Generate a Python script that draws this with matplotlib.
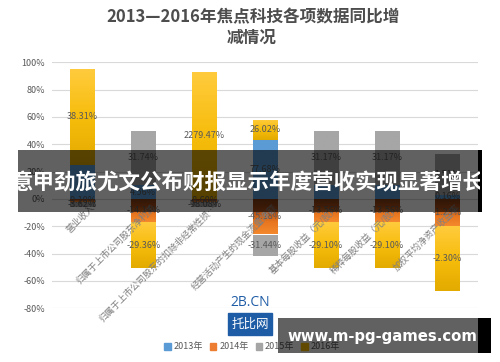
import numpy as np
import matplotlib
matplotlib.use('Agg')
import matplotlib.pyplot as plt
from matplotlib.colors import LinearSegmentedColormap
from matplotlib.patches import Rectangle

plt.rcParams['font.family'] = ['Noto Sans CJK SC', 'DejaVu Sans']

title1 = '2013—2016年焦点科技各项数据同比增'
title2 = '减情况'
categories = ['营业收入', '归属于上市公司股东净利润', '归属于上市公司股东的扣除非经常性损…',
              '经营活动产生的现金流量净额', '基本每股收益（元/股）', '稀释每股收益（元/股）',
              '加权平均净资产收益率']
years = ['2013年', '2014年', '2015年', '2016年']

# bar heights as drawn (%)
v2013 = [25, 10, 0, 43, 10, 10, 3]
v2014 = [-2, -17, -2, -26, -17, -17, -20]
v2015 = [-4, 40, -4, -15.5, 40, 40, 30]
v2016 = [70, -33.5, 93, 15, -33.5, -33.5, -47]

# data labels shown on the bars
t2013 = ['', '4.56%', '', '77.68%', '', '', '0.16%']
t2014 = ['-9.10%', '-14.14%', '-8.60%', '-45.18%', '-13.56%', '-13.56%', '-1.23%']
t2015 = ['-3.62%', '31.74%', '-98.08%', '-31.44%', '31.17%', '31.17%', '1.51%']
t2016 = ['38.31%', '-29.36%', '2279.47%', '26.02%', '-29.10%', '-29.10%', '-2.30%']

banner_text = '意甲劲旅尤文公布财报显示年度营收实现显著增长'
site_text = 'www.m-pg-games.com'

W, H = 500, 362
fig = plt.figure(figsize=(5, 3.62), dpi=100)


def fx(x):
    return x / W


def fy(y):
    return 1 - y / H


ax = fig.add_axes([fx(52), fy(308.3), fx(426), (308.3 - 62.3) / H])

series = [v2013, v2014, v2015, v2016]
texts = [t2013, t2014, t2015, t2016]
grads = [['#5b9bd5', '#5b9bd5'],
         ['#7a3812', '#a84b16', '#e8761f', '#f4882c'],
         ['#a6a6a6', '#a6a6a6'],
         ['#ffcb3d', '#f7bd0c', '#e3aa00']]
bw = 0.4

pos = np.zeros(len(categories))
neg = np.zeros(len(categories))
for vals, labs, cols in zip(series, texts, grads):
    cmap = LinearSegmentedColormap.from_list('g', cols)
    for i, v in enumerate(vals):
        if v == 0:
            continue
        base = pos[i] if v > 0 else neg[i]
        bar = ax.bar(i, v, bottom=base, width=bw, color='none', zorder=2)[0]
        lo, hi = min(base, base + v), max(base, base + v)
        im = ax.imshow(np.linspace(0, 1, 64).reshape(-1, 1), cmap=cmap, aspect='auto',
                       origin='upper', extent=[i - bw / 2, i + bw / 2, lo, hi], zorder=2)
        im.set_clip_path(bar)
        if labs[i]:
            ax.text(i, base + v / 2, labs[i], ha='center', va='center',
                    fontsize=6.5, color='#595959', zorder=4)
        if v > 0:
            pos[i] += v
        else:
            neg[i] += v

for i, c in enumerate(categories):
    ax.text(i + 0.18, -5, c, rotation=45, rotation_mode='anchor', ha='right', va='center',
            fontsize=6.5, color='#808080', zorder=5)

ax.set_xlim(-0.5, 6.5)
ax.set_ylim(-80, 100)
ax.set_yticks(range(-80, 101, 20))
ax.set_yticklabels([f'{v}%' for v in range(-80, 101, 20)], fontsize=6.5, color='#595959')
ax.set_xticks([])
ax.tick_params(length=0, pad=5)
ax.grid(axis='y', color='#d9d9d9', linewidth=0.8, zorder=0)
ax.set_axisbelow(True)
for s in ax.spines.values():
    s.set_visible(False)

fig.text(fx(253), fy(17), title1, ha='center', va='center', fontsize=12,
         fontweight='bold', color='#4d4d4d')
fig.text(fx(252), fy(38), title2, ha='center', va='center', fontsize=12,
         fontweight='bold', color='#4d4d4d')

handles = [Rectangle((0, 0), 1, 1, color=c) for c in ['#5b9bd5', '#ed7d31', '#a5a5a5', '#ffc000']]
fig.legend(handles, years, loc='center', bbox_to_anchor=(fx(252), fy(347)), ncol=4,
           frameon=False, fontsize=6.5, handlelength=0.7, handleheight=0.7,
           handletextpad=0.3, columnspacing=0.8, labelcolor='#595959')

# watermark
fig.text(fx(250), fy(303), '2B.CN', ha='center', va='center', fontsize=10,
         color='#1f5ca6', family=['Open Sans', 'DejaVu Sans'])
fig.add_artist(Rectangle((fx(228), fy(335)), fx(44), (335 - 313) / H,
                         transform=fig.transFigure, color='#1f5ca6', zorder=8))
fig.text(fx(250), fy(324), '托比网', ha='center', va='center', fontsize=9,
         color='white', zorder=9)

# banner overlay
fig.add_artist(Rectangle((fx(18), fy(212)), fx(460), 62 / H, transform=fig.transFigure,
                         facecolor='black', alpha=0.62, linewidth=0, zorder=10))
fig.add_artist(Rectangle((fx(478), fy(212)), fx(4), 62 / H, transform=fig.transFigure,
                         facecolor='black', linewidth=0, zorder=10))
bt = fig.text(fx(248), fy(183), banner_text, ha='center', va='center', fontsize=15.5,
              fontweight='bold', color='white', zorder=11)
bt.set_clip_path(Rectangle((fx(18), fy(212)), fx(462), 62 / H, transform=fig.transFigure))

# site overlay
fig.add_artist(Rectangle((fx(278), fy(353)), fx(200), 35 / H, transform=fig.transFigure,
                         facecolor='black', alpha=0.62, linewidth=0, zorder=10))
fig.add_artist(Rectangle((fx(478), fy(353)), fx(13), 35 / H, transform=fig.transFigure,
                         facecolor='black', linewidth=0, zorder=10))
fig.text(fx(382), fy(337), site_text, ha='center', va='center', fontsize=10.7,
         fontweight='bold', color='white', family=['DejaVu Sans'], zorder=11)

fig.savefig('out.png', dpi=100)
